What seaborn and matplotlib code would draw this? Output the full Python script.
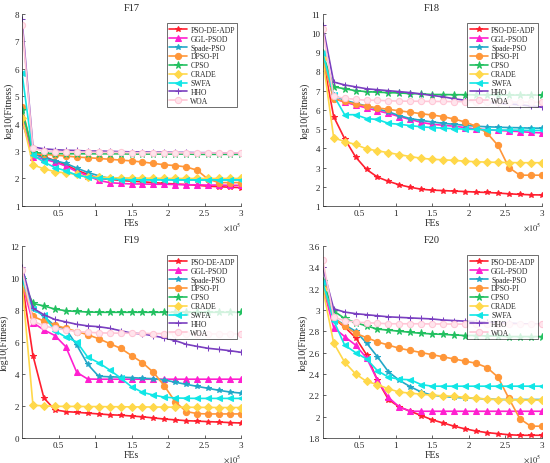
import numpy as np
import pandas as pd
import matplotlib
matplotlib.use("Agg")
import matplotlib.pyplot as plt
import seaborn as sns

# FEs sample points (x 1e5)
fes = [0, 0.15, 0.3, 0.45, 0.6, 0.75, 0.9, 1.05, 1.2, 1.35, 1.5,
       1.65, 1.8, 1.95, 2.1, 2.25, 2.4, 2.55, 2.7, 2.85, 3.0]

algos = ["PSO-DE-ADP", "GGL-PSOD", "Spade-PSO", "DPSO-PI", "CPSO",
         "CRADE", "SWFA", "HHO", "WOA"]

# F17
f17_psodeadp = [4.1, 2.9, 2.8, 2.65, 2.5, 2.3, 2.15, 2.0, 1.97, 1.93, 1.9, 1.88, 1.85, 1.82, 1.8, 1.78, 1.75, 1.72, 1.7, 1.68, 1.67]
f17_gglpsod = [4.1, 2.8, 2.7, 2.6, 2.45, 2.25, 2.1, 1.93, 1.85, 1.82, 1.8, 1.8, 1.79, 1.79, 1.78, 1.77, 1.77, 1.76, 1.76, 1.75, 1.75]
f17_spadepso = [4.5, 2.9, 2.75, 2.65, 2.55, 2.38, 2.22, 2.1, 2.0, 1.98, 1.97, 1.96, 1.96, 1.96, 1.95, 1.95, 1.95, 1.95, 1.95, 1.95, 1.95]
f17_dpsopi = [4.6, 2.9, 2.88, 2.85, 2.82, 2.78, 2.76, 2.73, 2.7, 2.67, 2.64, 2.6, 2.55, 2.5, 2.47, 2.42, 2.3, 1.97, 1.85, 1.85, 1.85]
f17_cpso = [4.5, 2.95, 2.92, 2.91, 2.9, 2.9, 2.9, 2.9, 2.9, 2.9, 2.89, 2.89, 2.89, 2.89, 2.89, 2.89, 2.88, 2.88, 2.88, 2.88, 2.88]
f17_crade = [4.2, 2.5, 2.35, 2.25, 2.2, 2.15, 2.05, 2.05, 2.03, 2.02, 2.02, 2.01, 2.01, 2.0, 2.0, 2.0, 2.0, 2.0, 2.0, 2.0, 2.0]
f17_swfa = [5.85, 2.85, 2.6, 2.4, 2.28, 2.12, 2.05, 2.0, 1.98, 1.96, 1.95, 1.95, 1.95, 1.95, 1.95, 1.95, 1.95, 1.95, 1.95, 1.95, 1.95]
f17_hho = [7.8, 3.15, 3.08, 3.05, 3.03, 3.02, 3.0, 3.0, 2.99, 2.98, 2.97, 2.97, 2.96, 2.96, 2.95, 2.95, 2.94, 2.94, 2.93, 2.93, 2.92]
f17_woa = [7.6, 3.1, 3.0, 2.98, 2.97, 2.96, 2.96, 2.95, 2.95, 2.95, 2.94, 2.94, 2.94, 2.94, 2.94, 2.93, 2.93, 2.93, 2.93, 2.93, 2.93]

# F18
f18_psodeadp = [8.7, 5.65, 4.5, 3.55, 2.9, 2.5, 2.28, 2.1, 1.97, 1.87, 1.82, 1.8, 1.77, 1.75, 1.72, 1.7, 1.67, 1.63, 1.6, 1.58, 1.57]
f18_gglpsod = [8.8, 6.6, 6.4, 6.25, 6.1, 5.95, 5.82, 5.65, 5.5, 5.35, 5.25, 5.2, 5.15, 5.08, 5.0, 4.97, 4.93, 4.9, 4.87, 4.83, 4.8]
f18_spadepso = [8.9, 6.75, 6.5, 6.35, 6.2, 6.05, 5.9, 5.7, 5.55, 5.45, 5.37, 5.3, 5.25, 5.2, 5.15, 5.12, 5.1, 5.08, 5.07, 5.05, 5.05]
f18_dpsopi = [8.7, 6.55, 6.45, 6.3, 6.2, 6.1, 6.03, 5.95, 5.88, 5.8, 5.73, 5.65, 5.52, 5.37, 5.15, 4.8, 4.15, 3.0, 2.6, 2.6, 2.6]
f18_cpso = [8.95, 7.2, 7.1, 7.0, 6.95, 6.92, 6.9, 6.88, 6.85, 6.83, 6.8, 6.8, 6.79, 6.79, 6.78, 6.78, 6.78, 6.77, 6.77, 6.77, 6.77]
f18_crade = [8.7, 4.55, 4.35, 4.2, 3.97, 3.87, 3.77, 3.67, 3.57, 3.48, 3.43, 3.4, 3.37, 3.33, 3.3, 3.28, 3.27, 3.26, 3.25, 3.25, 3.25]
f18_swfa = [8.95, 6.75, 5.75, 5.75, 5.55, 5.5, 5.3, 5.25, 5.18, 5.12, 5.08, 5.05, 5.02, 5.0, 4.98, 4.96, 4.95, 4.95, 4.94, 4.93, 4.93]
f18_hho = [10.4, 7.45, 7.3, 7.2, 7.1, 7.05, 7.0, 6.95, 6.9, 6.83, 6.75, 6.68, 6.58, 6.5, 6.45, 6.4, 6.35, 6.3, 6.27, 6.2, 6.15]
f18_woa = [10.2, 6.7, 6.6, 6.55, 6.5, 6.5, 6.47, 6.46, 6.45, 6.45, 6.44, 6.44, 6.43, 6.43, 6.42, 6.42, 6.41, 6.41, 6.4, 6.4, 6.4]

# F19
f19_psodeadp = [9.8, 5.15, 2.5, 1.75, 1.65, 1.6, 1.55, 1.5, 1.45, 1.42, 1.37, 1.32, 1.25, 1.18, 1.13, 1.08, 1.05, 1.02, 0.99, 0.96, 0.93]
f19_gglpsod = [9.7, 7.2, 6.75, 6.4, 5.7, 4.1, 3.68, 3.67, 3.67, 3.67, 3.67, 3.67, 3.67, 3.67, 3.67, 3.67, 3.67, 3.67, 3.67, 3.67, 3.67]
f19_spadepso = [9.9, 8.1, 7.6, 7.0, 6.8, 5.8, 4.6, 3.85, 3.82, 3.8, 3.77, 3.73, 3.7, 3.62, 3.48, 3.35, 3.22, 3.1, 2.97, 2.87, 2.8]
f19_dpsopi = [9.7, 7.6, 7.3, 7.05, 6.85, 6.65, 6.45, 6.2, 5.9, 5.6, 5.15, 4.7, 4.1, 3.25, 2.25, 1.65, 1.52, 1.5, 1.5, 1.5, 1.5]
f19_cpso = [9.9, 8.4, 8.25, 8.05, 7.95, 7.9, 7.87, 7.85, 7.85, 7.85, 7.85, 7.85, 7.85, 7.85, 7.85, 7.85, 7.85, 7.85, 7.85, 7.85, 7.85]
f19_crade = [9.7, 2.05, 2.0, 1.98, 1.97, 1.97, 1.96, 1.96, 1.95, 1.95, 1.94, 1.94, 1.93, 1.93, 1.92, 1.92, 1.91, 1.91, 1.9, 1.9, 1.9]
f19_swfa = [9.9, 8.05, 7.65, 6.7, 6.3, 6.0, 5.05, 4.7, 4.25, 3.75, 3.2, 2.85, 2.68, 2.55, 2.5, 2.48, 2.47, 2.47, 2.47, 2.47, 2.47]
f19_hho = [10.7, 8.1, 7.7, 7.4, 7.25, 7.1, 7.0, 6.95, 6.85, 6.7, 6.55, 6.5, 6.38, 6.25, 6.08, 5.85, 5.72, 5.6, 5.53, 5.45, 5.35]
f19_woa = [10.5, 7.3, 7.0, 6.85, 6.75, 6.65, 6.6, 6.57, 6.55, 6.55, 6.54, 6.53, 6.52, 6.52, 6.51, 6.51, 6.5, 6.5, 6.5, 6.5, 6.5]

# F20
f20_psodeadp = [3.22, 2.92, 2.84, 2.74, 2.58, 2.34, 2.16, 2.09, 2.05, 2.01, 1.97, 1.94, 1.91, 1.885, 1.865, 1.85, 1.84, 1.83, 1.825, 1.825, 1.825]
f20_gglpsod = [3.22, 2.835, 2.75, 2.67, 2.55, 2.34, 2.18, 2.09, 2.05, 2.05, 2.05, 2.05, 2.05, 2.05, 2.05, 2.05, 2.05, 2.05, 2.05, 2.05, 2.05]
f20_spadepso = [3.25, 2.92, 2.86, 2.8, 2.69, 2.56, 2.42, 2.34, 2.28, 2.23, 2.2, 2.19, 2.18, 2.175, 2.17, 2.165, 2.16, 2.16, 2.16, 2.16, 2.16]
f20_dpsopi = [3.22, 2.92, 2.85, 2.78, 2.74, 2.7, 2.67, 2.64, 2.62, 2.6, 2.58, 2.56, 2.54, 2.52, 2.5, 2.46, 2.37, 2.17, 1.98, 1.91, 1.91]
f20_cpso = [3.27, 2.99, 2.92, 2.88, 2.85, 2.82, 2.81, 2.8, 2.79, 2.78, 2.775, 2.77, 2.765, 2.76, 2.76, 2.755, 2.755, 2.75, 2.75, 2.75, 2.75]
f20_crade = [3.2, 2.69, 2.51, 2.4, 2.33, 2.3, 2.26, 2.23, 2.22, 2.21, 2.2, 2.195, 2.19, 2.18, 2.17, 2.165, 2.16, 2.16, 2.155, 2.155, 2.155]
f20_swfa = [3.26, 2.9, 2.67, 2.6, 2.54, 2.43, 2.37, 2.35, 2.345, 2.3, 2.285, 2.285, 2.285, 2.285, 2.285, 2.285, 2.285, 2.285, 2.285, 2.285, 2.285]
f20_hho = [3.4, 3.01, 2.98, 2.965, 2.955, 2.945, 2.935, 2.93, 2.925, 2.92, 2.915, 2.905, 2.9, 2.895, 2.89, 2.885, 2.88, 2.875, 2.87, 2.868, 2.865]
f20_woa = [3.47, 2.93, 2.9, 2.885, 2.88, 2.875, 2.87, 2.87, 2.87, 2.87, 2.868, 2.868, 2.867, 2.867, 2.866, 2.866, 2.865, 2.865, 2.865, 2.865, 2.865]

panels = [
    ("F17", [f17_psodeadp, f17_gglpsod, f17_spadepso, f17_dpsopi, f17_cpso, f17_crade, f17_swfa, f17_hho, f17_woa]),
    ("F18", [f18_psodeadp, f18_gglpsod, f18_spadepso, f18_dpsopi, f18_cpso, f18_crade, f18_swfa, f18_hho, f18_woa]),
    ("F19", [f19_psodeadp, f19_gglpsod, f19_spadepso, f19_dpsopi, f19_cpso, f19_crade, f19_swfa, f19_hho, f19_woa]),
    ("F20", [f20_psodeadp, f20_gglpsod, f20_spadepso, f20_dpsopi, f20_cpso, f20_crade, f20_swfa, f20_hho, f20_woa]),
]

yticks = {
    "F17": ([1, 2, 3, 4, 5, 6, 7, 8], ["1", "2", "3", "4", "5", "6", "7", "8"]),
    "F18": ([1, 2, 3, 4, 5, 6, 7, 8, 9, 10, 11], ["1", "2", "3", "4", "5", "6", "7", "8", "9", "10", "11"]),
    "F19": ([0, 2, 4, 6, 8, 10, 12], ["0", "2", "4", "6", "8", "10", "12"]),
    "F20": ([1.8, 2.0, 2.2, 2.4, 2.6, 2.8, 3.0, 3.2, 3.4, 3.6], ["1.8", "2", "2.2", "2.4", "2.6", "2.8", "3", "3.2", "3.4", "3.6"]),
}
xtick_vals = [0.5, 1, 1.5, 2, 2.5, 3]
xtick_labels = ["0.5", "1", "1.5", "2", "2.5", "3"]

colors = ["#ff1f2f", "#ff1fd0", "#22a8c8", "#ff9638", "#22c060",
          "#ffd84a", "#10e6e6", "#7a3fc0", "#ffc6d6"]
markers = ["*", "^", "*", "o", "*", "D", "<", "+", "o"]
msizes = [4, 4.5, 4, 4.5, 5.5, 4, 4.5, 5, 4.5]

sns.set_style("ticks")
plt.rcParams["font.family"] = ["Liberation Serif", "DejaVu Serif"]
plt.rcParams["xtick.direction"] = "in"
plt.rcParams["ytick.direction"] = "in"
plt.rcParams["mathtext.fontset"] = "stix"

fig, axes = plt.subplots(2, 2, figsize=(5.5, 4.64), dpi=100)
plt.subplots_adjust(left=0.04, right=0.985, bottom=0.054, top=0.968, wspace=0.373, hspace=0.208)

for ax, (name, series) in zip(axes.flat, panels):
    for i, vals in enumerate(series):
        df = pd.DataFrame({"FEs": fes, "val": vals})
        face = "#ffe4ec" if algos[i] == "WOA" else colors[i]
        sns.lineplot(data=df, x="FEs", y="val", ax=ax, color=colors[i], lw=1.2,
                     marker=markers[i], markersize=msizes[i], markerfacecolor=face,
                     markeredgecolor=colors[i], label=algos[i])
    yt, yl = yticks[name]
    ax.set_xlim(0, 3)
    ax.set_ylim(yt[0], yt[-1])
    ax.set_yticks(yt)
    ax.set_yticklabels(yl)
    ax.set_xticks(xtick_vals)
    ax.set_xticklabels(xtick_labels)
    ax.tick_params(labelsize=6.5, length=2.5, width=0.5, pad=2)
    for s in ax.spines.values():
        s.set_linewidth(0.5)
    sns.despine(ax=ax)
    ax.set_title(name, fontsize=7.5, pad=3)
    ax.set_xlabel("FEs", fontsize=7, labelpad=1)
    ax.set_ylabel("log10(Fitness)", fontsize=7, labelpad=1)
    ax.text(1.0, -0.075, r"$\times10^5$", transform=ax.transAxes, fontsize=6,
            ha="right", va="top")
    leg = ax.legend(loc="upper right", fontsize=5.5, frameon=True, fancybox=False,
                    borderpad=0.3, labelspacing=0.12, handlelength=2.4, handletextpad=0.4,
                    bbox_to_anchor=(1.0, 0.97))
    leg.get_frame().set_edgecolor("black")
    leg.get_frame().set_linewidth(0.5)

fig.savefig("out.png", dpi=100)
